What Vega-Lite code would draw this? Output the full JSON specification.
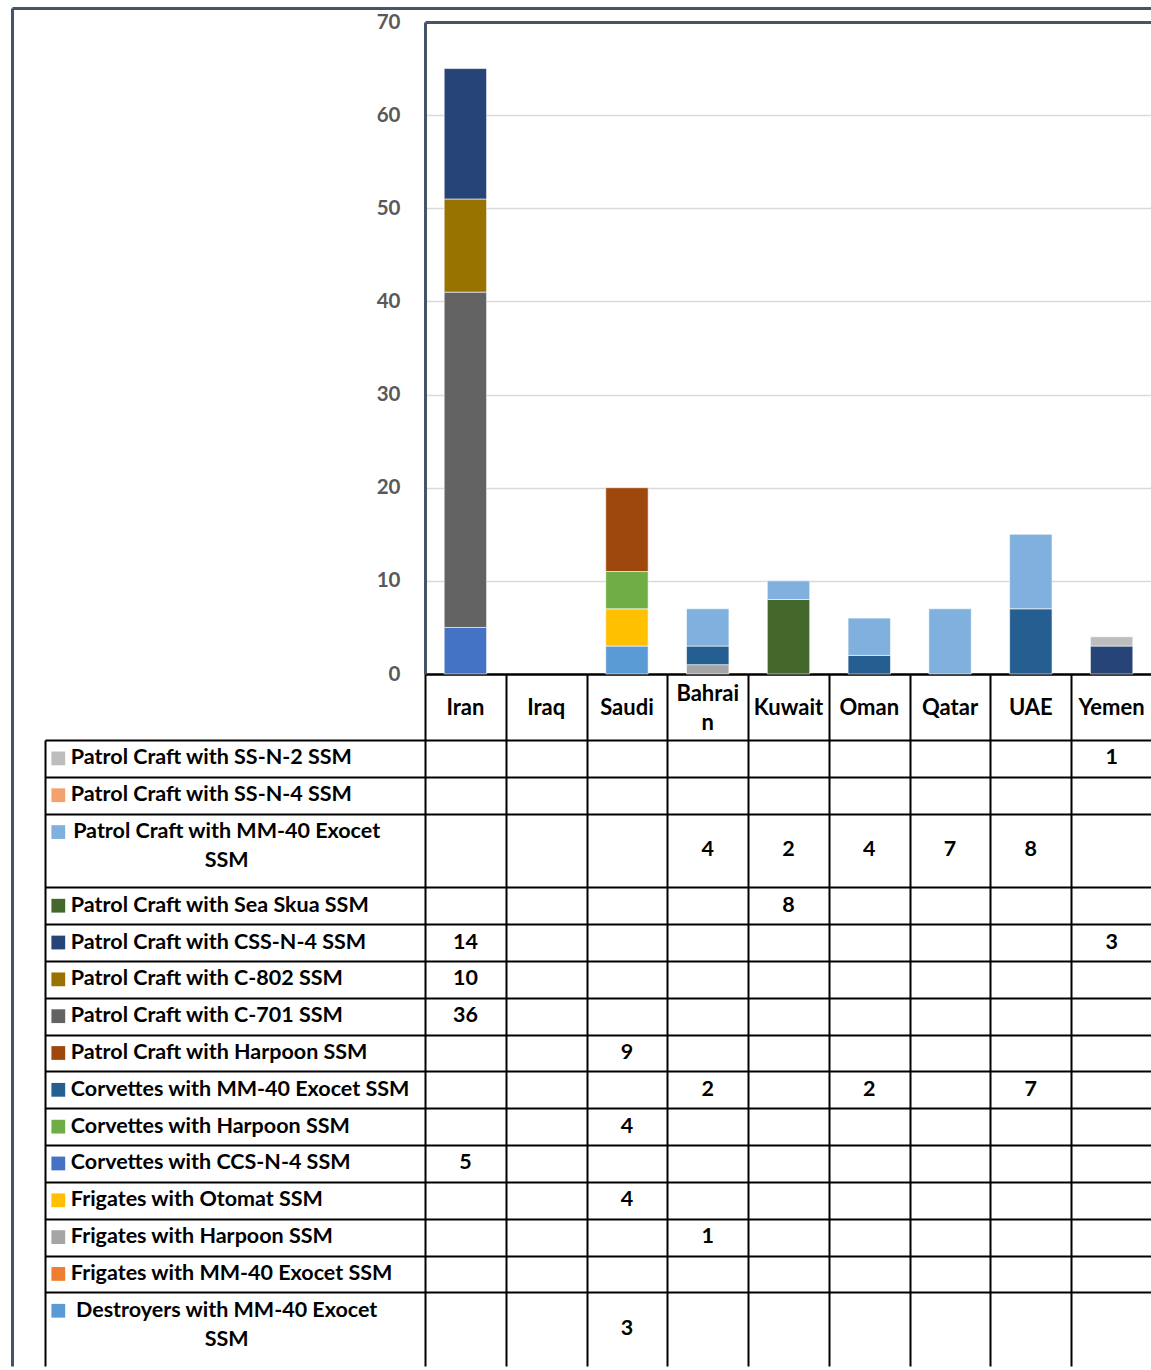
{
  "$schema": "https://vega.github.io/schema/vega-lite/v6.json",
  "background": "white",
  "padding": {"left": 9, "top": 8, "right": 0, "bottom": 0},
  "config": {"view": {"stroke": null}, "font": "Lato"},
  "datasets": {
    "counts": [
      {"country": "Iran", "series": "Corvettes with CCS-N-4 SSM", "value": 5},
      {"country": "Iran", "series": "Patrol Craft with C-701 SSM", "value": 36},
      {"country": "Iran", "series": "Patrol Craft with C-802 SSM", "value": 10},
      {"country": "Iran", "series": "Patrol Craft with CSS-N-4 SSM", "value": 14},
      {"country": "Saudi", "series": "Destroyers with MM-40 Exocet SSM", "value": 3},
      {"country": "Saudi", "series": "Frigates with Otomat SSM", "value": 4},
      {"country": "Saudi", "series": "Corvettes with Harpoon SSM", "value": 4},
      {"country": "Saudi", "series": "Patrol Craft with Harpoon SSM", "value": 9},
      {"country": "Bahrain", "series": "Frigates with Harpoon SSM", "value": 1},
      {"country": "Bahrain", "series": "Corvettes with MM-40 Exocet SSM", "value": 2},
      {"country": "Bahrain", "series": "Patrol Craft with MM-40 Exocet SSM", "value": 4},
      {"country": "Kuwait", "series": "Patrol Craft with Sea Skua SSM", "value": 8},
      {"country": "Kuwait", "series": "Patrol Craft with MM-40 Exocet SSM", "value": 2},
      {"country": "Oman", "series": "Corvettes with MM-40 Exocet SSM", "value": 2},
      {"country": "Oman", "series": "Patrol Craft with MM-40 Exocet SSM", "value": 4},
      {"country": "Qatar", "series": "Patrol Craft with MM-40 Exocet SSM", "value": 7},
      {"country": "UAE", "series": "Corvettes with MM-40 Exocet SSM", "value": 7},
      {"country": "UAE", "series": "Patrol Craft with MM-40 Exocet SSM", "value": 8},
      {"country": "Yemen", "series": "Patrol Craft with CSS-N-4 SSM", "value": 3},
      {"country": "Yemen", "series": "Patrol Craft with SS-N-2 SSM", "value": 1}
    ],
    "rows": [
      {"k": 1, "series": "Patrol Craft with SS-N-2 SSM", "label": "Patrol Craft with SS-N-2 SSM"},
      {"k": 2, "series": "Patrol Craft with SS-N-4 SSM", "label": "Patrol Craft with SS-N-4 SSM"},
      {"k": 3, "series": "Patrol Craft with MM-40 Exocet SSM", "label": ["Patrol Craft with MM-40 Exocet", "SSM"]},
      {"k": 4, "series": "Patrol Craft with Sea Skua SSM", "label": "Patrol Craft with Sea Skua SSM"},
      {"k": 5, "series": "Patrol Craft with CSS-N-4 SSM", "label": "Patrol Craft with CSS-N-4 SSM"},
      {"k": 6, "series": "Patrol Craft with C-802 SSM", "label": "Patrol Craft with C-802 SSM"},
      {"k": 7, "series": "Patrol Craft with C-701 SSM", "label": "Patrol Craft with C-701 SSM"},
      {"k": 8, "series": "Patrol Craft with Harpoon SSM", "label": "Patrol Craft with Harpoon SSM"},
      {"k": 9, "series": "Corvettes with MM-40 Exocet SSM", "label": "Corvettes with MM-40 Exocet SSM"},
      {"k": 10, "series": "Corvettes with Harpoon SSM", "label": "Corvettes with Harpoon SSM"},
      {"k": 11, "series": "Corvettes with CCS-N-4 SSM", "label": "Corvettes with CCS-N-4 SSM"},
      {"k": 12, "series": "Frigates with Otomat SSM", "label": "Frigates with Otomat SSM"},
      {"k": 13, "series": "Frigates with Harpoon SSM", "label": "Frigates with Harpoon SSM"},
      {"k": 14, "series": "Frigates with MM-40 Exocet SSM", "label": "Frigates with MM-40 Exocet SSM"},
      {"k": 15, "series": "Destroyers with MM-40 Exocet SSM", "label": ["Destroyers with MM-40 Exocet", "SSM"]}
    ]
  },
  "columns": 2,
  "spacing": {"row": 0, "column": 0},
  "bounds": "flush",
  "align": "each",
  "concat": [
    {
      "width": 380,
      "height": 652,
      "data": {"values": [{"v": 0}]},
      "mark": {"type": "point", "opacity": 0},
      "encoding": {
        "x": {
          "field": "v", "type": "quantitative",
          "scale": {"domain": [0, 1], "range": [-33, 1108]},
          "axis": {"orient": "top", "offset": 14, "title": null, "labels": false, "ticks": false, "grid": false, "domainColor": "#44546A", "domainWidth": 3}
        },
        "y": {
          "field": "v", "type": "quantitative",
          "scale": {"domain": [0, 1], "range": [1344, -14]},
          "axis": {"orient": "left", "offset": 33, "title": null, "labels": false, "ticks": false, "grid": false, "domainColor": "#44546A", "domainWidth": 3}
        }
      }
    },
    {
      "width": 727,
      "height": 652,
      "data": {"name": "counts"},
      "transform": [
        {"lookup": "series", "from": {"data": {"name": "rows"}, "key": "series", "fields": ["k"]}}
      ],
      "mark": {"type": "bar", "stroke": "white", "strokeWidth": 0.6},
      "encoding": {
        "x": {
          "field": "country", "type": "nominal",
          "scale": {"domain": ["Iran", "Iraq", "Saudi", "Bahrain", "Kuwait", "Oman", "Qatar", "UAE", "Yemen"], "paddingInner": 0.475, "paddingOuter": 0.2375},
          "axis": {
            "title": null, "labelAngle": 0, "grid": false, "ticks": false,
            "domainColor": "#000000", "domainWidth": 2.5,
            "labelFont": "Lato", "labelFontSize": 22, "labelFontWeight": "bold", "labelColor": "#000000",
            "labelPadding": {"condition": {"test": "datum.value === 'Bahrain'", "value": 19}, "value": 33},
            "labelBaseline": "middle", "labelLineHeight": 29, "labelOverlap": false,
            "labelExpr": "datum.value === 'Bahrain' ? ['Bahrai', 'n'] : datum.value"
          }
        },
        "y": {
          "field": "value", "type": "quantitative", "stack": "zero",
          "scale": {"domain": [0, 70], "nice": false},
          "axis": {
            "title": null, "values": [0, 10, 20, 30, 40, 50, 60, 70], "ticks": false,
            "labelPadding": 25, "labelFont": "Lato", "labelFontSize": 20.5, "labelFontWeight": "bold", "labelColor": "#595959",
            "domainColor": "#44546A", "domainWidth": 3,
            "gridColor": {"condition": {"test": "datum.value === 70", "value": "#44546A"}, "value": "#D9D9D9"},
            "gridWidth": {"condition": {"test": "datum.value === 70", "value": 3}, "value": 1.5}
          }
        },
        "color": {
          "field": "series", "type": "nominal", "legend": null,
          "scale": {
            "domain": ["Patrol Craft with SS-N-2 SSM", "Patrol Craft with SS-N-4 SSM", "Patrol Craft with MM-40 Exocet SSM", "Patrol Craft with Sea Skua SSM", "Patrol Craft with CSS-N-4 SSM", "Patrol Craft with C-802 SSM", "Patrol Craft with C-701 SSM", "Patrol Craft with Harpoon SSM", "Corvettes with MM-40 Exocet SSM", "Corvettes with Harpoon SSM", "Corvettes with CCS-N-4 SSM", "Frigates with Otomat SSM", "Frigates with Harpoon SSM", "Frigates with MM-40 Exocet SSM", "Destroyers with MM-40 Exocet SSM"],
            "range": ["#BDBDBD", "#F4A26B", "#7FB0DE", "#44682C", "#264478", "#997300", "#636363", "#9E480E", "#255E91", "#70AD47", "#4472C4", "#FFC000", "#A5A5A5", "#ED7D31", "#5B9BD5"]
          }
        },
        "order": {"field": "k", "type": "quantitative", "sort": "descending"}
      }
    },
    {
      "width": 380,
      "height": 692,
      "data": {"name": "rows"},
      "layer": [
        {
          "mark": {"type": "point", "shape": "square", "filled": true, "size": 190, "opacity": 1},
          "encoding": {
            "x": {"datum": 0.035, "type": "quantitative", "scale": {"domain": [0, 1]}, "axis": null},
            "y": {
              "field": "series", "type": "nominal",
              "scale": {
                "domain": ["Patrol Craft with SS-N-2 SSM", "Patrol Craft with SS-N-4 SSM", "Patrol Craft with MM-40 Exocet SSM", "~3", "Patrol Craft with Sea Skua SSM", "Patrol Craft with CSS-N-4 SSM", "Patrol Craft with C-802 SSM", "Patrol Craft with C-701 SSM", "Patrol Craft with Harpoon SSM", "Corvettes with MM-40 Exocet SSM", "Corvettes with Harpoon SSM", "Corvettes with CCS-N-4 SSM", "Frigates with Otomat SSM", "Frigates with Harpoon SSM", "Frigates with MM-40 Exocet SSM", "Destroyers with MM-40 Exocet SSM", "~15"],
                "range": [66, 692], "paddingInner": 0, "paddingOuter": 0
              },
              "axis": {
                "orient": "left", "title": null, "labels": false, "ticks": false,
                "domainColor": "#000000", "domainWidth": 2,
                "grid": true, "gridColor": "#000000", "gridWidth": 2, "tickBand": "extent",
                "values": ["Patrol Craft with SS-N-2 SSM", "Patrol Craft with SS-N-4 SSM", "~3", "Patrol Craft with Sea Skua SSM", "Patrol Craft with CSS-N-4 SSM", "Patrol Craft with C-802 SSM", "Patrol Craft with C-701 SSM", "Patrol Craft with Harpoon SSM", "Corvettes with MM-40 Exocet SSM", "Corvettes with Harpoon SSM", "Corvettes with CCS-N-4 SSM", "Frigates with Otomat SSM", "Frigates with Harpoon SSM", "Frigates with MM-40 Exocet SSM"]
              }
            },
            "color": {"field": "series", "type": "nominal", "legend": null}
          }
        },
        {
          "transform": [{"filter": "!isArray(datum.label)"}],
          "mark": {"type": "text", "align": "left", "baseline": "middle", "font": "Lato", "fontSize": 21.5, "fontWeight": "bold", "color": "#000000"},
          "encoding": {
            "x": {"datum": 0.068, "type": "quantitative"},
            "y": {"field": "series", "type": "nominal"},
            "text": {"field": "label"}
          }
        },
        {
          "transform": [{"filter": "isArray(datum.label)"}],
          "mark": {"type": "text", "align": "center", "baseline": "middle", "lineHeight": 29, "font": "Lato", "fontSize": 21.5, "fontWeight": "bold", "color": "#000000"},
          "encoding": {
            "x": {"datum": 0.478, "type": "quantitative"},
            "y": {"field": "series", "type": "nominal"},
            "text": {"field": "label"}
          }
        }
      ]
    },
    {
      "width": 727,
      "height": 692,
      "data": {"name": "counts"},
      "layer": [
        {
          "transform": [{"filter": {"not": {"field": "series", "oneOf": ["Patrol Craft with MM-40 Exocet SSM", "Destroyers with MM-40 Exocet SSM"]}}}],
          "mark": {"type": "text", "baseline": "middle", "font": "Lato", "fontSize": 21.5, "fontWeight": "bold", "color": "#000000"},
          "encoding": {
            "x": {
              "field": "country", "type": "nominal",
              "scale": {"domain": ["Iran", "Iraq", "Saudi", "Bahrain", "Kuwait", "Oman", "Qatar", "UAE", "Yemen"], "paddingInner": 0, "paddingOuter": 0},
              "axis": {
                "orient": "top", "title": null, "labels": false, "ticks": false, "domain": false,
                "grid": true, "gridColor": "#000000", "gridWidth": 2, "tickBand": "extent",
                "values": ["Iran", "Iraq", "Saudi", "Bahrain", "Kuwait", "Oman", "Qatar", "UAE"]
              }
            },
            "y": {
              "field": "series", "type": "nominal",
              "scale": {
                "domain": ["Patrol Craft with SS-N-2 SSM", "Patrol Craft with SS-N-4 SSM", "Patrol Craft with MM-40 Exocet SSM", "~3", "Patrol Craft with Sea Skua SSM", "Patrol Craft with CSS-N-4 SSM", "Patrol Craft with C-802 SSM", "Patrol Craft with C-701 SSM", "Patrol Craft with Harpoon SSM", "Corvettes with MM-40 Exocet SSM", "Corvettes with Harpoon SSM", "Corvettes with CCS-N-4 SSM", "Frigates with Otomat SSM", "Frigates with Harpoon SSM", "Frigates with MM-40 Exocet SSM", "Destroyers with MM-40 Exocet SSM", "~15"],
                "paddingInner": 0, "paddingOuter": 0.8962, "align": 1
              },
              "axis": {
                "orient": "left", "title": null, "labels": false, "ticks": false, "domain": false,
                "grid": true, "gridColor": "#000000", "gridWidth": 2, "tickBand": "extent",
                "values": ["Patrol Craft with SS-N-2 SSM", "Patrol Craft with SS-N-4 SSM", "~3", "Patrol Craft with Sea Skua SSM", "Patrol Craft with CSS-N-4 SSM", "Patrol Craft with C-802 SSM", "Patrol Craft with C-701 SSM", "Patrol Craft with Harpoon SSM", "Corvettes with MM-40 Exocet SSM", "Corvettes with Harpoon SSM", "Corvettes with CCS-N-4 SSM", "Frigates with Otomat SSM", "Frigates with Harpoon SSM", "Frigates with MM-40 Exocet SSM"]
              }
            },
            "text": {"field": "value", "type": "quantitative"}
          }
        },
        {
          "transform": [{"filter": {"field": "series", "oneOf": ["Patrol Craft with MM-40 Exocet SSM", "Destroyers with MM-40 Exocet SSM"]}}],
          "mark": {"type": "text", "baseline": "middle", "font": "Lato", "fontSize": 21.5, "fontWeight": "bold", "color": "#000000"},
          "encoding": {
            "x": {"field": "country", "type": "nominal"},
            "y": {"field": "series", "type": "nominal", "bandPosition": 1},
            "text": {"field": "value", "type": "quantitative"}
          }
        }
      ]
    }
  ]
}
